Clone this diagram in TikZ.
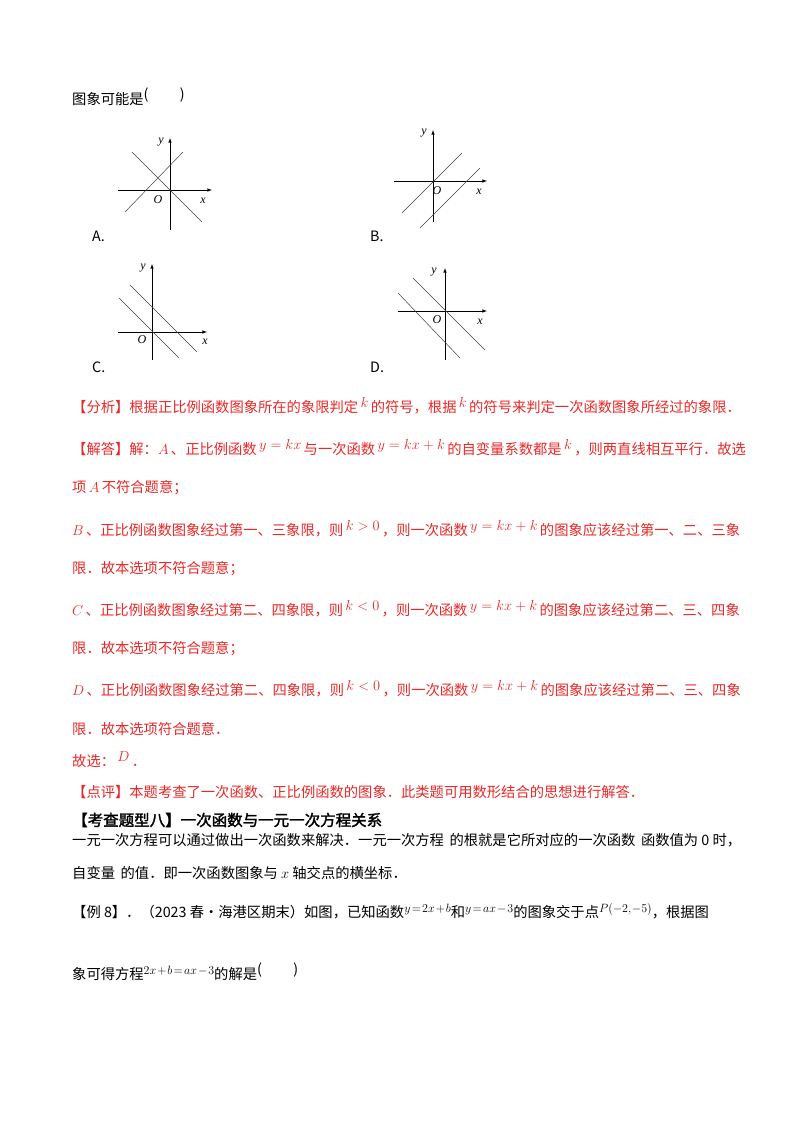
\documentclass[tikz,border=0pt]{standalone}
\usepackage{fontspec}
\setmainfont{Liberation Serif}
\newfontfamily\cjk{Noto Sans CJK SC}
\newfontfamily\cjkb{Noto Sans CJK SC}[FakeBold=2]
\definecolor{myred}{RGB}{232,40,40}
\newcommand{\fm}[1]{\,\raisebox{5pt}{\fontsize{14}{14}\selectfont$#1$}\,}
\newcommand{\fmt}[1]{\raisebox{5pt}{\fontsize{13}{13}\selectfont\thinmuskip=1mu\medmuskip=1.5mu\thickmuskip=2mu$#1$}}
\begin{document}
\begin{tikzpicture}[x=1pt,y=-1pt,
  txt/.style={anchor=west,inner sep=0,font=\cjk\fontsize{14.3}{16}\selectfont},
  rtxt/.style={txt,text=myred},
  ax/.style={line width=0.6pt,-latex},
  gl/.style={line width=0.5pt,black!75},
  lab/.style={inner sep=0,font=\fontsize{12}{12}\selectfont\itshape}]
\useasboundingbox (0,0) rectangle (800,1132);
\node[txt] (t0) at (72,97) {图象可能是\raisebox{5pt}{(}\hspace{2.2em}\raisebox{5pt}{)}};
% A
\draw[ax] (118,190) -- (212,190); \draw[ax] (170,230) -- (170,138);
\draw[gl] (132,152) -- (202,222); \draw[gl] (125,212) -- (183,152);
\node[lab] (ya) at (161,142) {y}; \node[lab] (Oa) at (158,200) {O}; \node[lab] (xa) at (203,201) {x};
\node[txt] (A) at (92,236) {A.};
% B
\draw[ax] (394,181) -- (487,181); \draw[ax] (433,222) -- (433,130);
\draw[gl] (402,213) -- (462,153); \draw[gl] (420,228) -- (480,168);
\node[lab] (yb) at (424,133) {y}; \node[lab] (Ob) at (437,191) {O}; \node[lab] (xb) at (479,192) {x};
\node[txt] (B) at (370,236) {B.};
% C
\draw[ax] (118,332) -- (207,332); \draw[ax] (152,360) -- (152,264);
\draw[gl] (119,298) -- (179,358); \draw[gl] (130,285) -- (197,352);
\node[lab] (yc) at (143,268) {y}; \node[lab] (Oc) at (142,340) {O}; \node[lab] (xc) at (205,342) {x};
\node[txt] (C) at (92,367) {C.};
% D
\draw[ax] (398,311) -- (487,311); \draw[ax] (445,360) -- (445,268);
\draw[gl] (413,278) -- (485,350); \draw[gl] (398,293) -- (460,358);
\node[lab] (yd) at (434,272) {y}; \node[lab] (Od) at (437,320) {O}; \node[lab] (xd) at (480,322) {x};
\node[txt] (D) at (370,367) {D.};
% red text
\node[rtxt] (l1) at (72,406) {【分析】根据正比例函数图象所在的象限判定\fm{k}的符号，根据\fm{k}的符号来判定一次函数图象所经过的象限．};
\node[rtxt] (l2) at (72,448) {【解答】解：$A$\,、正比例函数\fm{y=kx}与一次函数\fm{y=kx+k}的自变量系数都是\fm{k}，则两直线相互平行．故选};
\node[rtxt] (l3) at (72,488) {项\,$A$\,不符合题意；};
\node[rtxt] (l4) at (72,529) {$B$\,、正比例函数图象经过第一、三象限，则\fm{k>0}，则一次函数\fm{y=kx+k}的图象应该经过第一、二、三象};
\node[rtxt] (l5) at (72,569) {限．故本选项不符合题意；};
\node[rtxt] (l6) at (72,609) {$C$\,、正比例函数图象经过第二、四象限，则\fm{k<0}，则一次函数\fm{y=kx+k}的图象应该经过第二、三、四象};
\node[rtxt] (l7) at (72,649) {限．故本选项不符合题意；};
\node[rtxt] (l8) at (72,689) {$D$\,、正比例函数图象经过第二、四象限，则\fm{k<0}，则一次函数\fm{y=kx+k}的图象应该经过第二、三、四象};
\node[rtxt] (l9) at (72,729) {限．故本选项符合题意．};
\node[rtxt] (l10) at (72,760) {故选：\fm{D}．};
\node[rtxt] (l11) at (72,792) {【点评】本题考查了一次函数、正比例函数的图象．此类题可用数形结合的思想进行解答．};
\node[txt,font=\cjkb\fontsize{15.5}{16}\selectfont] (h) at (72,820) {【考查题型八】一次函数与一元一次方程关系};
\node[txt] (p1) at (72,840) {一元一次方程可以通过做出一次函数来解决．一元一次方程 \,的根就是它所对应的一次函数 \,函数值为 0 时，};
\node[txt] (p2) at (72,873) {自变量 \,的值．即一次函数图象与 $x$ 轴交点的横坐标．};
\node[txt] (p3) at (72,911) {【例 8】．（2023 春•海港区期末）如图，已知函数\fmt{y=2x+b}和\fmt{y=ax-3}的图象交于点\fmt{P(-2,-5)}，根据图};
\node[txt] (p4) at (72,972) {象可得方程\fmt{2x+b=ax-3}的解是\raisebox{5pt}{(}\hspace{2.2em}\raisebox{5pt}{)}};
\end{tikzpicture}
\end{document}
